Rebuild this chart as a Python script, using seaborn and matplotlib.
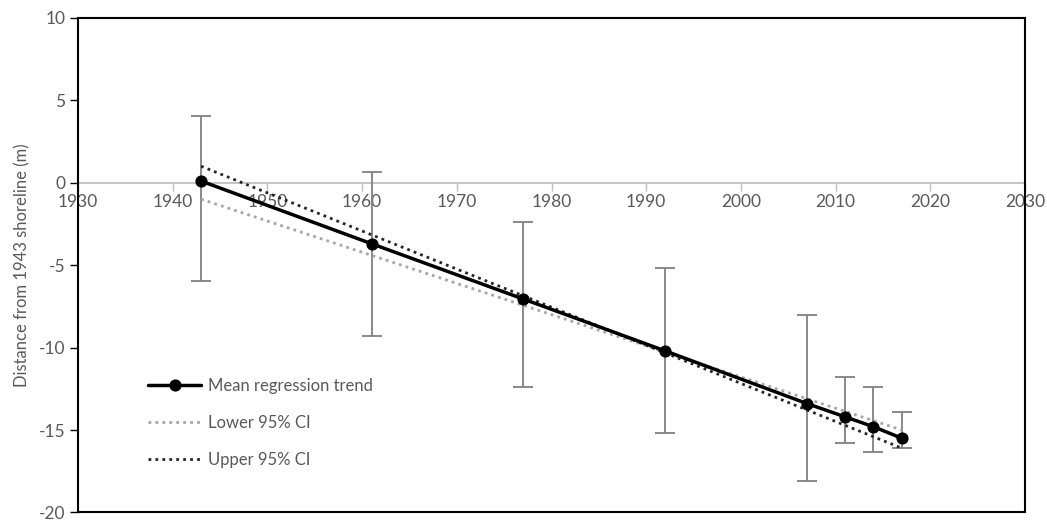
import numpy as np
import pandas as pd
import matplotlib
matplotlib.use("Agg")
import matplotlib.pyplot as plt
import seaborn as sns

# survey years and mean shoreline position (m from 1943 line)
years = [1943, 1961, 1977, 1992, 2007, 2011, 2014, 2017]
mean_dist = [0.1, -3.7, -7.05, -10.2, -13.4, -14.2, -14.8, -15.5]
err_upper = [4.05, 0.65, -2.4, -5.2, -8.0, -11.8, -12.4, -13.9]
err_lower = [-5.95, -9.3, -12.4, -15.2, -18.1, -15.8, -16.35, -16.1]

# 95% confidence bounds of the regression (straight lines)
ci_years = [1943, 2017]
ci_lower = [-1.0, -15.0]
ci_upper = [1.0, -16.1]

GREY_TXT = "#595959"

sns.set_style("white")
plt.rcParams["font.family"] = ["Lato", "DejaVu Sans"]
plt.rcParams["axes.unicode_minus"] = False

df_mean = pd.DataFrame({"year": years, "dist": mean_dist})
df_lo = pd.DataFrame({"year": ci_years, "dist": ci_lower})
df_hi = pd.DataFrame({"year": ci_years, "dist": ci_upper})

fig, ax = plt.subplots(figsize=(10.47, 5.24), dpi=100)
fig.subplots_adjust(left=0.0745, right=0.979, top=0.966, bottom=0.022)

yerr = [np.array(mean_dist) - np.array(err_lower),
        np.array(err_upper) - np.array(mean_dist)]
ax.errorbar(years, mean_dist, yerr=yerr, fmt="none", ecolor="#808080",
            elinewidth=1.3, capsize=7, capthick=1.3, zorder=2)

sns.lineplot(data=df_mean, x="year", y="dist", ax=ax, color="black",
             linewidth=2.5, marker="o", markersize=8, markeredgecolor="black",
             label="Mean regression trend", zorder=4)
sns.lineplot(data=df_lo, x="year", y="dist", ax=ax, color="#a6a6a6",
             linewidth=2, linestyle=(0, (1, 1.5)), label="Lower 95% CI",
             zorder=3)
sns.lineplot(data=df_hi, x="year", y="dist", ax=ax, color="#262626",
             linewidth=2, linestyle=(0, (1, 1.5)), label="Upper 95% CI",
             zorder=3)

ax.set_xlim(1930, 2030)
ax.set_ylim(-20, 10)
ax.set_xticks(np.arange(1930, 2031, 10))
ax.set_yticks(np.arange(-20, 11, 5))

# x axis crosses at 0 like the spreadsheet original
ax.spines["bottom"].set_position(("data", 0))
ax.spines["bottom"].set_color("#bfbfbf")
ax.spines["bottom"].set_linewidth(1.3)
ax.spines["bottom"].set_zorder(1)
for side in ["left", "right", "top"]:
    ax.spines[side].set_color("black")
    ax.spines[side].set_linewidth(1.5)
ax.plot([0, 1], [0, 0], transform=ax.transAxes, color="black",
        linewidth=1.5, clip_on=False)

ax.tick_params(axis="x", direction="out", length=6, width=1, color="#bfbfbf",
               labelcolor=GREY_TXT, labelsize=12.5, pad=2, bottom=True)
ax.tick_params(axis="y", direction="out", length=6, width=1, color="black",
               labelcolor=GREY_TXT, labelsize=12.5, pad=3, left=True)
for lab in ax.get_xticklabels():
    lab.set_zorder(0)

ax.set_xlabel("")
ax.set_ylabel("Distance from 1943 shoreline (m)", color=GREY_TXT,
              fontsize=12, labelpad=6)

ax.legend(loc="lower left", bbox_to_anchor=(0.058, 0.06), frameon=False,
          fontsize=12, labelcolor=GREY_TXT, handlelength=3.2,
          handletextpad=0.4, labelspacing=1.25)

fig.savefig("out.png", dpi=100)
